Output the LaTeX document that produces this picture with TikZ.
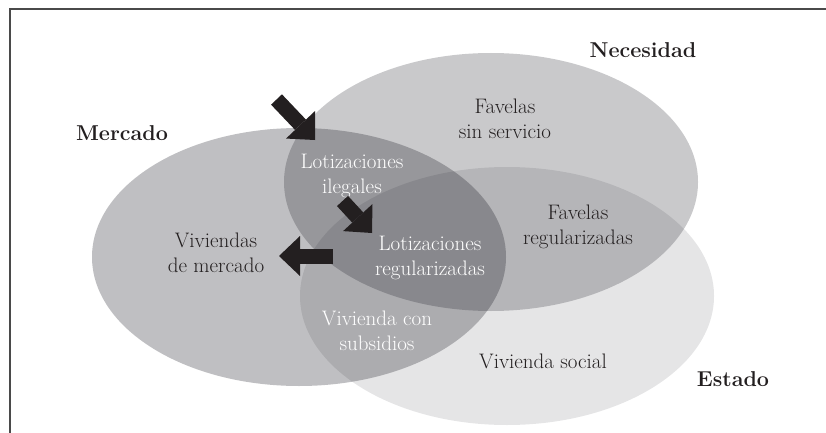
\documentclass[tikz,border=0pt]{standalone}
\usepackage{fontspec}
\usetikzlibrary{shapes.geometric,arrows.meta}
\definecolor{ink}{HTML}{231F20}
\definecolor{rule}{HTML}{4A4A4A}
\definecolor{shade}{HTML}{00000A}
\begin{document}
\begin{tikzpicture}[x=1pt,y=-1pt,
    title/.style={font=\fontsize{21.5}{24}\selectfont\bfseries,text=ink},
    lab/.style={align=center,font=\fontsize{21}{25}\selectfont,text=ink},
    wlab/.style={lab,text=white},
    bigarrow/.style={draw=ink,line width=15pt,
      -{Triangle[width=40pt,length=21pt,line width=0pt]}}]

      \useasboundingbox (0,0) rectangle (826,433);

      \coordinate (c1) at (826,9);
      \coordinate (c2) at (10,9);
      \coordinate (c3) at (10,433);
      \draw[rule,line width=1.4pt] (c1) -- (c2) -- (c3);

      \begin{scope}[every node/.style={ellipse,fill=shade,inner sep=0pt,
          minimum width=414pt,minimum height=258pt}]
        \node[fill opacity=0.25] (mercado)   at (299,257) {};
        \node[fill opacity=0.21] (necesidad) at (491,182) {};
        \node[fill opacity=0.10] (estado)    at (507,296) {};
      \end{scope}

      \node[title] (tmer) at (122,133) {Mercado};
      \node[title] (tnec) at (643,50)  {Necesidad};
      \node[title] (test) at (733,379) {Estado};

      \node[lab]  (fss) at (505,119) {Favelas\\sin servicio};
      \node[wlab] (lil) at (352,176) {Lotizaciones\\ilegales};
      \node[lab]  (frg) at (578,227) {Favelas\\regularizadas};
      \node[wlab] (lrg) at (430,258) {Lotizaciones\\regularizadas};
      \node[lab]  (vme) at (216,253) {Viviendas\\de mercado};
      \node[wlab] (vcs) at (377,331) {Vivienda con\\subsidios};
      \node[lab]  (vso) at (543,361) {Vivienda social};

      \coordinate (a1) at (276.5,99.5);
      \coordinate (b1) at (315,140);
      \coordinate (a2) at (342.5,201);
      \coordinate (b2) at (372,233);
      \coordinate (a3) at (333,256);
      \coordinate (b3) at (279,256);

      \path (a1) edge[bigarrow] (b1);
      \path (a2) edge[bigarrow] (b2);
      \path (a3) edge[bigarrow] (b3);

    \end{tikzpicture}
\end{document}
